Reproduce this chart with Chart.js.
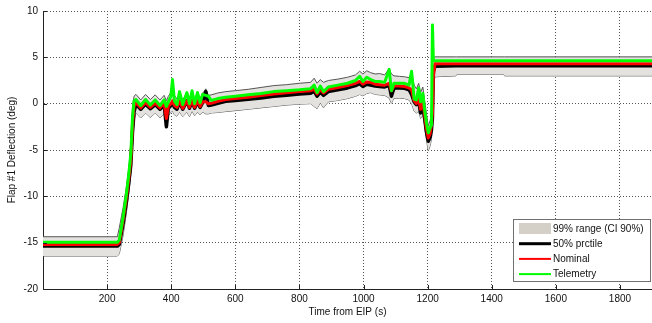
<!DOCTYPE html>
<html>
<head>
<meta charset="utf-8">
<script src="https://cdn.jsdelivr.net/npm/chart.js@4.4.1/dist/chart.umd.min.js"></script>
<style>
  html, body { margin: 0; padding: 0; background: #fff; }
  canvas { display: block; }
</style>
</head>
<body>
<canvas id="flapChart" width="652" height="323"></canvas>
<script>
// Flap #1 deflection vs. time from entry interface (EIP)
const time = [
  0, 232, 238, 250, 260, 268, 274, 279, 284, 290,
  305, 320, 335, 350, 365, 378, 385, 391, 399, 404,
  410, 418, 426, 436, 449, 457, 465, 473, 482, 490,
  498, 508, 516, 525, 545, 570, 600, 640, 680, 720,
  760, 800, 835, 846, 855, 865, 875, 890, 920, 950,
  975, 988, 998, 1010, 1022, 1036, 1050, 1066, 1080, 1087,
  1095, 1112, 1128, 1142, 1150, 1158, 1165, 1172, 1178, 1185,
  1190, 1196, 1202, 1208, 1212, 1215, 1218, 1223, 1288, 1290,
  1438, 1440, 1900
];

// 99% dispersion envelope
const rangeHigh = [
  -14.36, -14.36, -13.4, -11.2, -9.0, -6.8, -4.3, -0.4, 0.8, 1.0,
  0.4, 1.0, 0.45, 0.95, 0.4, 0.9, 0.3, 0.8, 1.2, 1.4,
  0.9, 0.5, 1.1, 0.4, 1.2, 0.5, 1.3, 0.5, 1.2, 0.6,
  1.1, 1.6, 0.9, 0.95, 1.15, 1.3, 1.4, 1.55, 1.75, 1.95,
  2.05, 2.2, 2.3, 2.75, 2.2, 2.6, 2.3, 2.5, 2.65, 2.85,
  3.1, 3.5, 3.2, 3.55, 3.35, 3.2, 3.25, 3.1, 3.8, 3.2,
  3.0, 2.95, 2.9, 2.8, 3.3, 2.0, 1.6, 2.2, 1.2, 1.8,
  0.5, -1.0, -2.4, -1.8, -1.0, 5.05, 5.05, 5.05, 5.05, 5.05,
  5.05, 5.05, 5.05
];
const rangeLow = [
  -16.44, -16.44, -16.2, -14.2, -11.8, -9.6, -7.6, -4.8, -1.8, -1.0,
  -1.55, -1.0, -1.5, -1.0, -1.55, -1.1, -2.6, -1.3, -0.9, -0.8,
  -1.2, -1.35, -0.9, -1.4, -0.9, -1.4, -0.8, -1.3, -0.9, -1.2,
  -0.9, -1.1, -1.1, -1.0, -0.95, -0.85, -0.75, -0.6, -0.45, -0.3,
  -0.15, -0.05, 0.0, -0.3, -0.55, 0.1, -0.45, 0.2, 0.35, 0.55,
  0.8, 1.0, 0.85, 1.1, 1.2, 1.0, 0.95, 0.9, 0.6, 0.05,
  0.6, 0.6, 0.55, 0.4, 0.0, -0.8, -1.0, -0.8, -1.6, -1.2,
  -2.2, -3.8, -5.1, -4.5, -3.8, -2.0, 2.0, 2.9, 3.0, 3.15,
  3.15, 3.0, 3.0
];
// 50th percentile
const median = [
  -15.37, -15.37, -15.2, -12.9, -10.6, -8.4, -6.6, -3.2, -0.9, -0.05,
  -0.6, -0.05, -0.55, -0.1, -0.6, -0.1, -2.5, -0.5, -0.2, 0.1,
  -0.4, -0.6, 0.2, -0.6, 0.3, -0.5, 0.3, -0.5, 0.2, -0.4,
  0.1, 1.3, -0.2, -0.15, 0.05, 0.25, 0.35, 0.48, 0.62, 0.8,
  0.92, 1.03, 1.12, 1.35, 0.8, 1.25, 0.9, 1.3, 1.5, 1.7,
  1.95, 2.15, 1.85, 2.1, 2.0, 1.9, 1.85, 1.8, 2.0, 0.8,
  1.7, 1.7, 1.65, 1.5, 1.0, 0.2, -0.1, 0.3, -1.0, -0.3,
  -1.4, -3.0, -4.05, -3.6, -2.8, -1.5, 3.5, 4.05, 4.1, 4.1,
  4.1, 4.1, 4.1
];
const nominal = [
  -15.2, -15.2, -15.0, -12.5, -10.2, -8.0, -6.1, -2.4, -0.3, 0.1,
  -0.45, 0.1, -0.4, 0.05, -0.45, 0.05, -1.6, -0.3, 0.0, 0.3,
  -0.2, -0.4, 0.3, -0.5, 0.3, -0.4, 0.4, -0.4, 0.3, -0.3,
  0.2, 0.2, 0.0, 0.05, 0.25, 0.45, 0.55, 0.7, 0.88, 1.05,
  1.18, 1.3, 1.4, 1.55, 1.05, 1.5, 1.15, 1.55, 1.75, 1.95,
  2.2, 2.4, 2.1, 2.35, 2.3, 2.1, 2.05, 2.0, 2.2, 1.4,
  1.9, 1.9, 1.85, 1.7, 1.5, 0.3, 0.0, 0.5, -0.6, 0.2,
  -1.0, -2.6, -3.7, -3.2, -2.2, -1.0, 3.0, 4.3, 4.3, 4.3,
  4.3, 4.3, 4.3
];
const telemetry = [
  -14.95, -14.95, -14.7, -12.2, -9.8, -7.5, -5.4, -1.6, 0.3, 0.45,
  -0.2, 0.45, -0.15, 0.4, -0.2, 0.4, -0.3, 0.2, 0.8, 2.6,
  0.3, -0.1, 1.3, -0.1, 1.2, 0.0, 1.4, 0.0, 1.2, 0.1,
  1.0, 0.9, 0.8, 0.35, 0.55, 0.7, 0.8, 0.95, 1.1, 1.3,
  1.4, 1.5, 1.62, 2.0, 1.2, 1.9, 1.3, 1.8, 2.0, 2.2,
  2.5, 2.95, 2.4, 2.85, 2.6, 2.4, 2.4, 2.3, 3.7, 1.4,
  2.2, 2.2, 2.2, 2.0, 3.5, 0.5, 0.4, 1.7, 0.2, 1.1,
  -0.5, -2.0, -3.15, -2.6, -2.3, 8.5, 4.64, 4.64, 4.64, 4.64,
  4.64, 4.64, 4.64
];

const xTicks = [200, 400, 600, 800, 1000, 1200, 1400, 1600, 1800];
const yTicks = [-20, -15, -10, -5, 0, 5, 10];

const legendLabels = ['99% range (CI 90%)', '50% prctile', 'Nominal', 'Telemetry'];

const pts = arr => time.map((t, i) => ({ x: t, y: arr[i] }));
const FONT = 'Liberation Sans, Arial, Helvetica, sans-serif';

// MATLAB-style inward tick marks on the left and bottom axes
const innerTicks = {
  id: 'innerTicks',
  afterDatasetsDraw(chart) {
    const { ctx, chartArea: a, scales: { x, y } } = chart;
    ctx.save();
    ctx.strokeStyle = '#222';
    ctx.lineWidth = 1;
    ctx.beginPath();
    xTicks.forEach(v => {
      const px = Math.round(x.getPixelForValue(v)) + 0.5;
      ctx.moveTo(px, a.bottom);
      ctx.lineTo(px, a.bottom - 4);
    });
    yTicks.forEach(v => {
      const py = Math.round(y.getPixelForValue(v)) + 0.5;
      ctx.moveTo(a.left, py);
      ctx.lineTo(a.left + 4, py);
    });
    ctx.stroke();
    ctx.restore();
  }
};

// boxed legend in the lower right corner
const boxLegend = {
  id: 'boxLegend',
  afterDraw(chart) {
    const ctx = chart.ctx;
    const x0 = 513, y0 = 219, w = 138, h = 63;
    ctx.save();
    ctx.fillStyle = '#fff';
    ctx.fillRect(x0, y0, w, h);
    ctx.strokeStyle = '#707070';
    ctx.lineWidth = 1;
    ctx.strokeRect(x0 + 0.5, y0 + 0.5, w - 1, h - 1);

    const sx = 519, sw = 32;
    const rowY = i => y0 + 9.5 + i * 15.2;
    const swatches = [
      { fill: '#d4d0c8' },
      { line: '#000', width: 3 },
      { line: '#ff0000', width: 2 },
      { line: '#00ff00', width: 2 }
    ];
    swatches.forEach((s, i) => {
      const cy = rowY(i);
      if (s.fill) {
        ctx.fillStyle = s.fill;
        ctx.fillRect(sx, cy - 5.5, sw, 11);
      } else {
        ctx.strokeStyle = s.line;
        ctx.lineWidth = s.width;
        ctx.beginPath();
        ctx.moveTo(sx, cy);
        ctx.lineTo(sx + sw, cy);
        ctx.stroke();
      }
      ctx.fillStyle = '#111';
      ctx.font = '10px ' + FONT;
      ctx.textBaseline = 'middle';
      ctx.textAlign = 'left';
      ctx.fillText(legendLabels[i], sx + sw + 2, cy + 0.5);
    });
    ctx.restore();
  }
};

const ctx = document.getElementById('flapChart').getContext('2d');

new Chart(ctx, {
  type: 'line',
  data: {
    datasets: [
      { label: 'Telemetry', data: pts(telemetry), borderColor: '#00ff00', borderWidth: 3 },
      { label: 'Nominal', data: pts(nominal), borderColor: '#ff0000', borderWidth: 3 },
      { label: '50% prctile', data: pts(median), borderColor: '#000000', borderWidth: 3.5 },
      { label: '99% high', data: pts(rangeHigh), borderColor: '#555555', borderWidth: 1,
        fill: '+1', backgroundColor: '#e4e2de' },
      { label: '99% low', data: pts(rangeLow), borderColor: '#555555', borderWidth: 1 }
    ]
  },
  options: {
    responsive: false,
    animation: false,
    events: [],
    layout: { padding: { top: 9, right: 0, bottom: 0, left: 0 } },
    elements: {
      point: { radius: 0 },
      line: { tension: 0, borderJoinStyle: 'round', fill: false }
    },
    plugins: {
      legend: { display: false },
      tooltip: { enabled: false }
    },
    scales: {
      x: {
        type: 'linear',
        min: 0,
        max: 1900,
        afterBuildTicks: s => { s.ticks = xTicks.map(v => ({ value: v })); },
        afterFit: s => { s.height = 34; },
        ticks: {
          padding: 4,
          maxRotation: 0,
          color: '#111',
          font: { family: FONT, size: 10 },
          callback: v => String(v)
        },
        grid: { color: '#555', lineWidth: 1, drawTicks: false },
        border: { display: true, color: '#222', width: 1, dash: [1, 2] },
        title: {
          display: true,
          text: 'Time from EIP (s)',
          color: '#111',
          font: { family: FONT, size: 10 },
          padding: { top: 0, bottom: 5 }
        }
      },
      y: {
        min: -20,
        max: 10,
        afterBuildTicks: s => { s.ticks = yTicks.map(v => ({ value: v })); },
        afterFit: s => { s.width = 43; },
        ticks: {
          padding: 5,
          color: '#111',
          font: { family: FONT, size: 10 },
          callback: v => String(v)
        },
        grid: { color: '#555', lineWidth: 1, drawTicks: false },
        border: { display: true, color: '#222', width: 1, dash: [1, 2] },
        title: {
          display: true,
          text: 'Flap #1 Deflection (deg)',
          color: '#111',
          font: { family: FONT, size: 10 },
          padding: { top: 6, bottom: 0 }
        }
      }
    }
  },
  plugins: [innerTicks, boxLegend]
});
</script>
</body>
</html>
